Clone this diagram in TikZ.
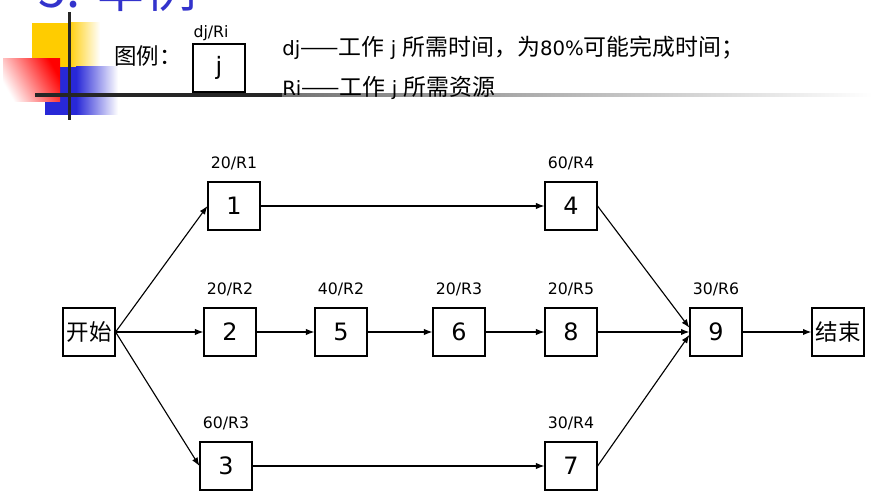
\documentclass[tikz,border=0pt]{standalone}
\usepackage{fontspec}
\setmainfont{DejaVu Sans}
\newfontfamily\cjk{Noto Sans CJK SC}
\usepackage{xcolor}
\usetikzlibrary{arrows.meta, positioning}

\definecolor{titleblue}{RGB}{51,51,204}
\definecolor{deco yellow}{RGB}{255,204,0}
\definecolor{deco blue}{RGB}{40,40,215}
\newcommand{\zh}[1]{{\cjk\fontsize{16.3}{19}\selectfont #1}}

\begin{document}
\begin{tikzpicture}[
  x=0.025cm, y=-0.025cm,
  box/.style={draw, line width=0.8pt, minimum width=1.3cm,
              minimum height=1.2cm, inner sep=0pt, align=center,
              font=\fontsize{17}{20}\selectfont},
  zhbox/.style={box, font=\cjk\fontsize{16}{19}\selectfont},
  lab/.style={inner sep=0pt, font=\fontsize{11.2}{13}\selectfont},
  note/.style={anchor=west, inner sep=0pt, font=\fontsize{14}{18}\selectfont},
  arr/.style={-{Latex[length=6pt, width=4.5pt]}, line width=0.8pt},
  node distance=0.28cm
]
  \useasboundingbox (0,0) rectangle (888,503);
  \clip (0,0) rectangle (888,503);

  % header decoration
  \fill[deco yellow] (32,23) rectangle (68,67);
  \shade[left color=deco yellow, right color=white] (68,23) rectangle (100,67);
  \fill[deco blue] (45,67) rectangle (76,115);
  \shade[left color=deco blue, right color=white] (76,67) rectangle (118,115);
  \shade[top color=red, bottom color=white, shading angle=-60] (3,59) rectangle (60,102);
  \fill[black!85] (35,93) rectangle (282,97);
  \shade[left color=black!55, right color=white] (282,93.5) rectangle (873,96.5);
  \fill[black!85] (67.5,12) rectangle (70.5,120);

  \node[anchor=base west, inner sep=0pt, text=titleblue,
        font=\cjk\fontsize{36}{40}\selectfont] (title) at (38,8) {5. 举例};

  % legend
  \node[anchor=west, inner sep=0pt, font=\cjk\fontsize{16}{19}\selectfont]
    (legend) at (114,56) {图例：};
  \node[box] (nj) at (219,68) {j};
  \node[lab, above=0.06cm of nj, xshift=-0.2cm] (lj) {dj/Ri};
  \node[note] (dj) at (282,48)
    {dj\zh{——工作} j \zh{所需时间，为}80\%\zh{可能完成时间；}};
  \node[note] (ri) at (282,88) {Ri\zh{——工作} j \zh{所需资源}};

  % network
  \node[zhbox] (start) at (89,332) {开始};
  \node[box] (n1) at (234,206) {1};
  \node[box] (n2) at (230,332) {2};
  \node[box] (n3) at (226,466) {3};
  \node[box] (n4) at (571,206) {4};
  \node[box] (n5) at (341,332) {5};
  \node[box] (n6) at (459,332) {6};
  \node[box] (n7) at (571,466) {7};
  \node[box] (n8) at (571,332) {8};
  \node[box] (n9) at (716,332) {9};
  \node[zhbox] (finish) at (838,332) {结束};

  \node[lab, above=of n1] (l1) {20/R1};
  \node[lab, above=of n2] (l2) {20/R2};
  \node[lab, above=of n3] (l3) {60/R3};
  \node[lab, above=of n4] (l4) {60/R4};
  \node[lab, above=of n5] (l5) {40/R2};
  \node[lab, above=of n6] (l6) {20/R3};
  \node[lab, above=of n7] (l7) {30/R4};
  \node[lab, above=of n8] (l8) {20/R5};
  \node[lab, above=of n9] (l9) {30/R6};

  \draw[arr] (start.east) -- (n1.west);
  \draw[arr] (start.east) -- (n2.west);
  \draw[arr] (start.east) -- (n3.west);
  \draw[arr] (n1) -- (n4);
  \draw[arr] (n2) -- (n5);
  \draw[arr] (n5) -- (n6);
  \draw[arr] (n6) -- (n8);
  \draw[arr] (n3) -- (n7);
  \draw[arr] (n4.east) -- ([yshift=3pt]n9.west);
  \draw[arr] (n8) -- (n9);
  \draw[arr] (n7.east) -- ([yshift=-2pt]n9.west);
  \draw[arr] (n9) -- (finish);
\end{tikzpicture}
\end{document}
